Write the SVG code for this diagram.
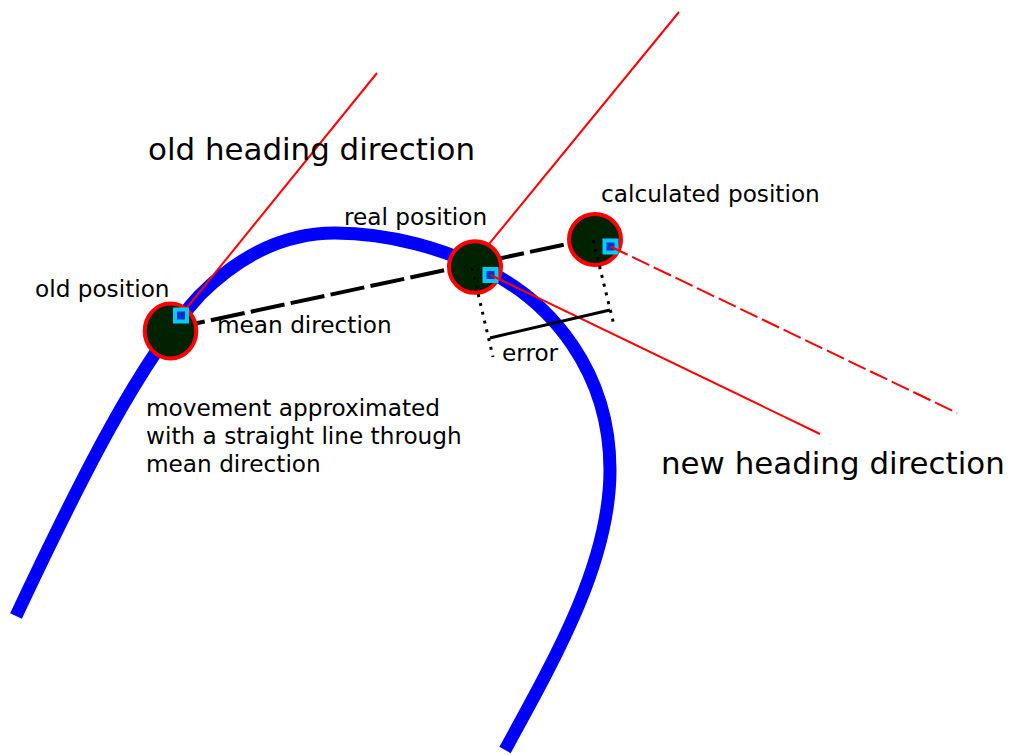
<svg xmlns="http://www.w3.org/2000/svg" width="1009" height="755" viewBox="0 0 1009 755">
<style>
text{font-family:"DejaVu Sans","Liberation Sans",sans-serif;fill:#000}
.big{font-size:30.9px}
.sm{font-size:23.2px}
.pos{fill:#002200;stroke:#f00;stroke-width:4}
.sq{fill:#0033cc;stroke:#00ccff;stroke-width:4}
.red{stroke:#f00;stroke-width:2;fill:none}
.dot{stroke:#000;stroke-width:3;stroke-dasharray:3 6;fill:none}
</style>
<rect width="1009" height="755" fill="#fff"/>
<g id="path-curve">
<path d="M16,616 C80,480 140,360 200,295 C245,250 290,233 335,233 C390,233 445,249 490,272 C550,303 610,370 610,470 C610,560 560,650 505,750" fill="none" stroke="#0000ff" stroke-width="13"/>
</g>
<g id="connectors-back">
<line class="red" x1="181" y1="315" x2="377" y2="73"/>
<line class="red" x1="471" y1="266" x2="679" y2="12"/>
<line x1="170" y1="329" x2="595" y2="238" stroke="#000" stroke-width="4" stroke-dasharray="34.5 6.3" stroke-dashoffset="-1"/>
</g>
<g id="node-old">
<ellipse class="pos" cx="170.5" cy="331" rx="25.8" ry="27.5"/>
<rect class="sq" x="175" y="309.5" width="12" height="12"/>
<text class="sm" x="35" y="297">old position</text>
</g>
<g id="node-real">
<ellipse class="pos" cx="475" cy="267" rx="26" ry="25.8"/>
<rect class="sq" x="484.5" y="269" width="12" height="12"/>
<text class="sm" x="344" y="224.5">real position</text>
</g>
<g id="node-calc">
<ellipse class="pos" cx="595" cy="239.5" rx="26" ry="25.5"/>
<rect class="sq" x="604.5" y="240.5" width="12" height="12"/>
<text class="sm" x="601" y="202">calculated position</text>
</g>
<g id="connectors-front">
<line class="dot" x1="472" y1="268" x2="493" y2="357"/>
<line class="dot" x1="593" y1="240" x2="613.5" y2="323"/>
<line class="red" x1="490.5" y1="275" x2="820" y2="434"/>
<line class="red" x1="610.5" y1="246.5" x2="957" y2="413" stroke-dasharray="19 5"/>
<line x1="490" y1="338" x2="610" y2="310" stroke="#000" stroke-width="3"/>
</g>
<g id="labels">
<text class="big" x="148" y="160">old heading direction</text>
<text class="sm" x="217" y="333">mean direction</text>
<text class="sm" x="502" y="361">error</text>
<text class="sm" x="146" y="416">movement approximated</text>
<text class="sm" x="146" y="444">with a straight line through</text>
<text class="sm" x="146" y="472">mean direction</text>
<text class="big" x="661" y="474">new heading direction</text>
</g>
</svg>
